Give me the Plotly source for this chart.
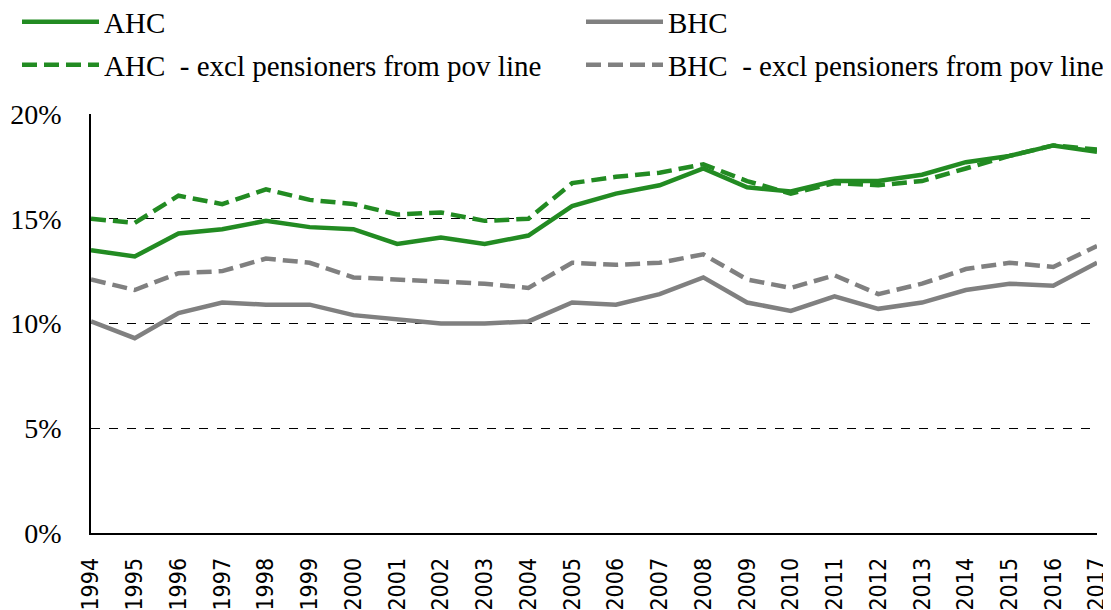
import plotly.graph_objects as go

years = list(range(1994, 2018))
ahc = [13.5, 13.2, 14.3, 14.5, 14.9, 14.6, 14.5, 13.8, 14.1, 13.8, 14.2, 15.6,
       16.2, 16.6, 17.4, 16.5, 16.3, 16.8, 16.8, 17.1, 17.7, 18.0, 18.5, 18.2]
bhc = [10.1, 9.3, 10.5, 11.0, 10.9, 10.9, 10.4, 10.2, 10.0, 10.0, 10.1, 11.0,
       10.9, 11.4, 12.2, 11.0, 10.6, 11.3, 10.7, 11.0, 11.6, 11.9, 11.8, 12.9]
ahc_excl = [15.0, 14.8, 16.1, 15.7, 16.4, 15.9, 15.7, 15.2, 15.3, 14.9, 15.0, 16.7,
            17.0, 17.2, 17.6, 16.8, 16.2, 16.7, 16.6, 16.8, 17.4, 18.0, 18.5, 18.3]
bhc_excl = [12.1, 11.6, 12.4, 12.5, 13.1, 12.9, 12.2, 12.1, 12.0, 11.9, 11.7, 12.9,
            12.8, 12.9, 13.3, 12.1, 11.7, 12.3, 11.4, 11.9, 12.6, 12.9, 12.7, 13.7]
names = ["AHC", "BHC", "AHC\u00a0 - excl pensioners from pov line",
         "BHC\u00a0 - excl pensioners from pov line"]
y_ticks = [0, 5, 10, 15, 20]
y_tick_labels = ["0%", "5%", "10%", "15%", "20%"]

GREEN = "#228B22"
GRAY = "#808080"
SERIF = "Liberation Serif, Times New Roman, serif"
SANS = "DejaVu Sans Condensed, DejaVu Sans, sans-serif"
DASH = "15px,7px"

# the page places the figure 8px from the top-left corner of the window
OFF = 8
W, H = 1111 - OFF, 610 - OFF

fig = go.Figure()
series = [
    (ahc, names[0], GREEN, "solid", "legend2"),
    (bhc, names[1], GRAY, "solid", "legend3"),
    (ahc_excl, names[2], GREEN, DASH, "legend4"),
    (bhc_excl, names[3], GRAY, DASH, "legend5"),
]
for vals, nm, col, dash, lg in series:
    fig.add_trace(go.Scatter(
        x=years, y=vals, name=nm, mode="lines",
        line=dict(color=col, width=4.5, dash=dash), legend=lg,
    ))


def leg(xpx, ypx):
    return dict(orientation="h", xref="container", yref="container",
                x=(xpx - OFF) / W, y=1 - (ypx - OFF) / H,
                yanchor="middle", xanchor="left",
                font=dict(family=SERIF, size=29, color="black"),
                bgcolor="rgba(0,0,0,0)", itemwidth=77)


fig.update_layout(
    width=W, height=H,
    showlegend=True,
    paper_bgcolor="white", plot_bgcolor="white",
    margin=dict(l=91 - OFF, r=14, t=114 - OFF, b=77, autoexpand=False),
    font=dict(family=SERIF, size=28, color="black"),
    legend2=leg(17, 22),
    legend3=leg(581, 22),
    legend4=leg(17, 65),
    legend5=leg(581, 65),
    xaxis=dict(
        range=[1994, 2017], tickmode="array", tickvals=years,
        ticktext=[str(y_) for y_ in years], tickangle=-90,
        showgrid=False, showline=True, linecolor="black", linewidth=1.5,
        ticks="", zeroline=False, ticklabelstandoff=14,
        tickfont=dict(family=SANS, size=23, color="black"),
    ),
    yaxis=dict(
        range=[0, 20], tickmode="array", tickvals=y_ticks, ticktext=y_tick_labels,
        showgrid=True, gridcolor="black", griddash="dash", gridwidth=1,
        showline=True, linecolor="black", linewidth=1.5,
        ticks="", zeroline=False, ticklabelstandoff=22,
        tickfont=dict(family=SERIF, size=28, color="black"),
    ),
)

fig.write_html("out.html")
